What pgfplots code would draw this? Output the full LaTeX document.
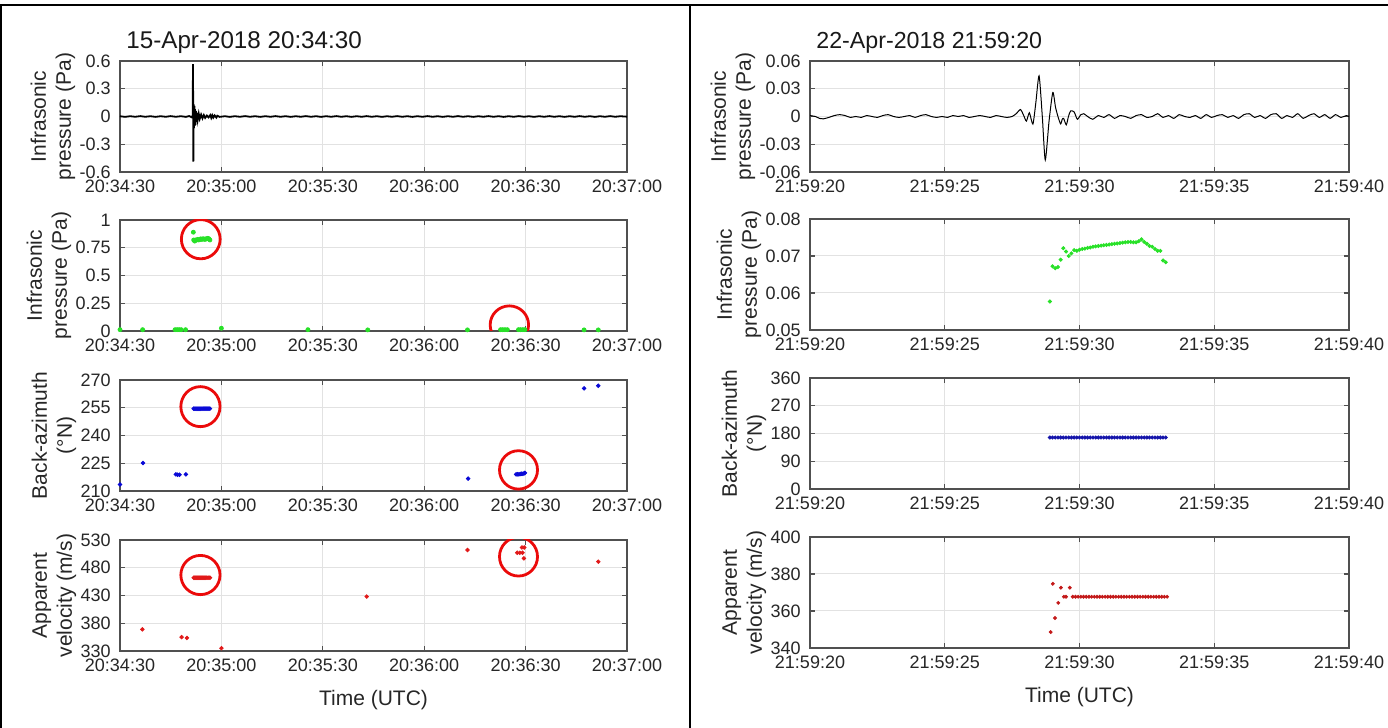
\documentclass[border=0pt]{standalone}
\usepackage{fontspec}
\setmainfont{Liberation Sans}
\usepackage{pgfplots}
\pgfplotsset{compat=1.18}
\definecolor{mgreen}{RGB}{40,225,40}
\definecolor{mblue}{RGB}{10,10,215}
\definecolor{mblue2}{RGB}{20,20,170}
\definecolor{mred}{RGB}{225,25,25}
\definecolor{mred2}{RGB}{195,25,25}
\definecolor{circ}{RGB}{235,10,10}
\definecolor{gridc}{RGB}{226,226,226}
\definecolor{axc}{RGB}{80,80,80}
\newcommand{\tk}{\fontsize{9}{10.8}\selectfont}
\newcommand{\lbl}{\fontsize{10.5}{12.5}\selectfont}
\newcommand{\ttl}{\fontsize{11.6}{13}\selectfont}
\newcommand{\ttlL}{\fontsize{12.1}{13.5}\selectfont}
\tikzset{ring/.style={draw=circ, line width=1.4pt}}
\pgfplotsset{
  mpanel/.style={
    scale only axis, height=55.5pt, anchor=south west,
    scaled y ticks=false, scaled x ticks=false,
    grid=major, major grid style={gridc, line width=0.5pt},
    axis line style={axc, line width=0.6pt},
    tick style={axc, line width=0.6pt},
    major tick length=2.5pt, tick align=inside,
    ticklabel style={font=\tk, text=black!85},
    yticklabel style={inner sep=0pt, xshift=-4.5pt},
    xticklabel style={inner sep=0pt, yshift=-3.75pt},
    every axis y label/.style={rotate=90, anchor=south, inner sep=0pt, align=center, font=\lbl, text=black!85},
    every axis x label/.style={at={(axis description cs:0.5,0)}, anchor=center, yshift=-24.5pt, font=\lbl, text=black!85},
    every axis title/.style={at={(axis description cs:0,1)}, anchor=base west, xshift=3pt, yshift=6.3pt, inner sep=0pt, font=\ttl, text=black!90},
  },
  lpanel/.style={mpanel, width=253.5pt, xmin=0, xmax=150, xtick={0,30,60,90,120,150},
    xticklabels={20:34:30,20:35:00,20:35:30,20:36:00,20:36:30,20:37:00}},
  rpanel/.style={mpanel, width=269.5pt, xmin=0, xmax=20, xtick={0,5,10,15,20},
    xticklabels={21:59:20,21:59:25,21:59:30,21:59:35,21:59:40}},
  gdot/.style={only marks, mark=*, color=mgreen, mark size=1pt},
  bdot/.style={only marks, mark=*, color=mblue, mark size=0.9pt},
  rdot/.style={only marks, mark=*, color=mred, mark size=0.9pt},
  gdot2/.style={only marks, mark=*, color=mgreen, mark size=0.8pt},
  bdot2/.style={only marks, mark=*, color=mblue2, mark size=0.8pt},
  rdot2/.style={only marks, mark=*, color=mred2, mark size=0.75pt},
}
\begin{document}
\begin{tikzpicture}
\useasboundingbox (0,0) rectangle (694pt,364pt);
% frame
\draw[black, line width=1pt] (0,361.5pt) -- (694pt,361.5pt);
\draw[black, line width=1pt] (0.5pt,0) -- (0.5pt,362pt);
\draw[black, line width=1pt] (344.75pt,0) -- (344.75pt,362pt);

% ---------------- LEFT COLUMN ----------------
\begin{axis}[lpanel, at={(60pt,278pt)}, ymin=-0.6, ymax=0.6,
  ytick={-0.6,-0.3,0,0.3,0.6}, yticklabels={-0.6,-0.3,0,0.3,0.6},
  ylabel={Infrasonic\\pressure (Pa)},
  ylabel style={at={([xshift=-22.2pt]axis description cs:0,0.5)}},
  title={15-Apr-2018 20:34:30}, title style={font=\ttlL}]
\addplot[black, line width=0.9pt] coordinates {
(0,0.003)(1.5,-0.004)(3,0.003)(4.5,-0.003)(6,0.004)(7.5,-0.003)(9,0.003)(10.5,-0.004)
(12,0.003)(13.5,-0.003)(15,0.004)(16.5,-0.003)(18,0.003)(19.5,-0.004)(20.5,0.005)
(21.2,-0.008)(21.5,0.01)(21.6,0.567)(21.7,-0.488)(21.8,0.13)(21.9,-0.125)(22.0,0.115)
(22.1,-0.1)(22.2,0.08)(22.3,-0.09)(22.45,0.06)(22.6,-0.06)(22.8,0.04)(23.0,-0.035)
(23.3,0.03)(23.6,-0.025)(24.0,0.02)(24.4,-0.02)(24.8,0.015)(25.2,-0.015)(25.7,0.01)
(26.2,-0.01)(26.7,0.015)(27.0,-0.015)(27.3,0.014)(27.6,-0.012)(28.0,0.012)(28.5,-0.012)
(28.8,0.008)(29.5,-0.004)(31,0.003)(32.5,-0.004)(34,0.003)(35.5,-0.003)(37,0.004)
(38.5,-0.003)(40,0.003)(41.5,-0.004)(43,0.003)(44.5,-0.003)(46,0.004)(47.5,-0.003)
(49,0.003)(50.5,-0.004)(52,0.003)(53.5,-0.003)(55,0.004)(56.5,-0.003)(58,0.003)
(59.5,-0.004)(61,0.003)(62.5,-0.003)(64,0.004)(65.5,-0.003)(67,0.003)(68.5,-0.004)
(70,0.003)(71.5,-0.003)(73,0.004)(74.5,-0.003)(76,0.003)(77.5,-0.004)(79,0.003)
(80.5,-0.003)(82,0.004)(83.5,-0.003)(85,0.003)(86.5,-0.004)(88,0.003)(89.5,-0.003)
(91,0.004)(92.5,-0.003)(94,0.003)(95.5,-0.004)(97,0.003)(98.5,-0.003)(100,0.004)
(101.5,-0.003)(103,0.003)(104.5,-0.004)(106,0.003)(107.5,-0.003)(109,0.004)(110.5,-0.003)
(112,0.003)(113.5,-0.004)(115,0.003)(116.5,-0.003)(118,0.004)(119.5,-0.003)(121,0.003)
(122.5,-0.004)(124,0.003)(125.5,-0.003)(127,0.004)(128.5,-0.003)(130,0.003)(131.5,-0.004)
(133,0.003)(134.5,-0.003)(136,0.004)(137.5,-0.003)(139,0.003)(140.5,-0.004)(142,0.003)
(143.5,-0.003)(145,0.004)(146.5,-0.003)(148,0.003)(150,-0.002)};
\end{axis}

\begin{axis}[lpanel, at={(60pt,198.5pt)}, ymin=0, ymax=1,
  ytick={0,0.25,0.5,0.75,1}, yticklabels={0,0.25,0.5,0.75,1},
  ylabel={Infrasonic\\pressure (Pa)},
  ylabel style={at={([xshift=-24.2pt]axis description cs:0,0.5)}}]
\addplot[gdot] coordinates {
(21.7,0.89)(21.8,0.82)(22.1,0.81)(22.4,0.82)(22.7,0.82)(23.0,0.825)(23.3,0.82)(23.6,0.825)
(23.9,0.83)(24.2,0.825)(24.5,0.83)(24.8,0.83)(25.1,0.825)(25.4,0.83)(25.7,0.83)(26.0,0.835)
(26.3,0.83)(26.6,0.82)
(0,0.012)(6.7,0.012)(16.3,0.012)(16.9,0.012)(17.5,0.012)(18.1,0.012)(19.4,0.012)
(30.0,0.025)(55.6,0.012)(73.3,0.01)(102.8,0.01)(112.6,0.012)(113.2,0.012)(113.9,0.012)
(114.6,0.012)(117.9,0.012)(118.5,0.012)(119.2,0.012)(119.8,0.012)(137.3,0.01)(141.5,0.01)};
\draw[ring] (axis cs:23.9,0.827) ellipse [x radius=9.7pt, y radius=9.8pt];
\draw[ring] (axis cs:115.2,0.055) ellipse [x radius=9.6pt, y radius=9.5pt];
\end{axis}

\begin{axis}[lpanel, at={(60pt,118.5pt)}, ymin=210, ymax=270,
  ytick={210,225,240,255,270}, yticklabels={210,225,240,255,270},
  ylabel={Back-azimuth\\(°N)},
  ylabel style={at={([xshift=-21.7pt]axis description cs:0,0.5)}}]
\addplot[bdot] coordinates {
(0,213.5)(6.8,225.1)(16.5,219.0)(17.0,218.8)(17.6,218.8)(19.5,219.0)
(21.8,254.5)(22.1,254.5)(22.4,254.5)(22.7,254.5)(23.0,254.5)(23.3,254.5)(23.6,254.5)
(23.9,254.5)(24.2,254.5)(24.5,254.5)(24.8,254.5)(25.1,254.5)(25.4,254.5)(25.7,254.5)
(26.0,254.5)(26.3,254.5)(26.6,254.5)
(103.0,216.7)(117.2,219.0)(117.6,219.0)(118.0,219.0)(118.4,219.2)(118.8,219.3)
(119.2,219.3)(119.6,219.6)(119.8,219.8)(137.3,265.5)(141.5,266.9)};
\draw[ring] (axis cs:23.8,255.6) ellipse [x radius=9.8pt, y radius=10pt];
\draw[ring] (axis cs:117.9,221.4) ellipse [x radius=9.5pt, y radius=9.6pt];
\end{axis}

\begin{axis}[lpanel, at={(60pt,38.5pt)}, ymin=330, ymax=530,
  ytick={330,380,430,480,530}, yticklabels={330,380,430,480,530},
  ylabel={Apparent\\velocity (m/s)},
  ylabel style={at={([xshift=-21.7pt]axis description cs:0,0.5)}},
  xlabel={Time (UTC)}]
\addplot[rdot] coordinates {
(6.6,369)(18.2,355)(19.8,353.5)(30.0,335)
(21.8,462)(22.1,462)(22.4,462)(22.7,462)(23.0,462)(23.3,462)(23.6,462)(23.9,462)
(24.2,462)(24.5,462)(24.8,462)(25.1,462)(25.4,462)(25.7,462)(26.0,462)(26.3,462)(26.6,462)
(73.0,428)(102.8,512)(117.5,507)(118.3,507)(119.1,507)(118.9,516.5)(119.6,516.5)
(119.5,497)(141.5,491)};
\draw[ring] (axis cs:23.8,466.9) ellipse [x radius=9.8pt, y radius=9.8pt];
\draw[ring] (axis cs:117.9,500) ellipse [x radius=9.5pt, y radius=9.7pt];
\end{axis}

% ---------------- RIGHT COLUMN ----------------
\begin{axis}[rpanel, at={(405pt,278pt)}, ymin=-0.06, ymax=0.06,
  ytick={-0.06,-0.03,0,0.03,0.06}, yticklabels={-0.06,-0.03,0,0.03,0.06},
  ylabel={Infrasonic\\pressure (Pa)},
  ylabel style={at={([xshift=-27.2pt]axis description cs:0,0.5)}},
  title={22-Apr-2018 21:59:20}]
\addplot[black, line width=0.5pt, smooth, tension=0.4] coordinates {
(0.0,0.001)(0.2,0.000)(0.35,-0.002)(0.5,-0.0025)(0.7,-0.001)(0.9,0.001)(1.1,0.002)
(1.3,0.001)(1.5,-0.001)(1.7,0.000)(1.9,-0.001)(2.1,0.001)(2.3,0.000)(2.5,-0.001)
(2.7,0.001)(2.9,0.002)(3.1,0.000)(3.3,-0.001)(3.5,0.000)(3.7,0.001)(3.9,-0.001)
(4.1,0.001)(4.3,0.002)(4.5,0.000)(4.7,-0.001)(4.9,0.000)(5.1,-0.001)(5.3,0.001)
(5.5,0.000)(5.7,0.001)(5.9,-0.001)(6.1,0.000)(6.3,0.001)(6.5,0.000)(6.7,-0.001)
(6.9,0.001)(7.1,0.000)(7.3,-0.001)(7.5,0.000)(7.65,0.003)(7.81,0.0075)(7.93,0.001)
(8.03,-0.005)(8.14,0.004)(8.27,-0.0082)(8.38,0.015)(8.50,0.044)(8.62,0.000)(8.73,-0.047)
(8.87,-0.005)(9.01,0.026)(9.11,0.010)(9.21,-0.001)(9.30,-0.008)(9.36,-0.003)(9.41,-0.002)
(9.51,-0.009)(9.59,0.000)(9.67,0.006)(9.80,0.005)(9.92,-0.003)(10.05,0.002)(10.16,0.003)
(10.3,0.000)(10.49,-0.003)(10.7,0.001)(10.9,-0.001)(11.1,0.002)(11.3,-0.002)(11.5,0.001)
(11.7,0.000)(11.9,-0.002)(12.1,0.001)(12.3,0.002)(12.5,-0.001)(12.7,0.000)(12.9,0.003)
(13.1,-0.001)(13.3,0.001)(13.5,-0.002)(13.7,0.002)(13.9,0.000)(14.1,-0.001)(14.3,0.001)
(14.5,-0.002)(14.7,0.002)(14.9,-0.001)(15.1,0.001)(15.3,0.002)(15.5,-0.001)(15.7,0.001)
(15.9,-0.002)(16.1,0.002)(16.3,0.003)(16.5,-0.001)(16.7,0.001)(16.9,-0.002)(17.1,0.002)
(17.3,0.003)(17.5,-0.002)(17.7,0.001)(17.9,-0.001)(18.1,0.003)(18.3,-0.002)(18.5,0.001)
(18.7,0.003)(18.9,-0.001)(19.1,0.002)(19.3,-0.002)(19.5,0.002)(19.7,-0.001)(19.9,0.001)(20.0,0.000)};
\end{axis}

\begin{axis}[rpanel, at={(405pt,199pt)}, ymin=0.05, ymax=0.08,
  ytick={0.05,0.06,0.07,0.08}, yticklabels={0.05,0.06,0.07,0.08},
  ylabel={Infrasonic\\pressure (Pa)},
  ylabel style={at={([xshift=-24.2pt]axis description cs:0,0.5)}}]
\addplot[gdot2] coordinates {
(8.9,0.0577)(9.0,0.0672)(9.1,0.0667)(9.2,0.0670)(9.3,0.0690)(9.4,0.0721)(9.5,0.0712)
(9.6,0.0700)(9.7,0.0707)(9.8,0.0716)(9.9,0.0714)(10.0,0.0717)(10.1,0.0719)(10.2,0.0720)
(10.3,0.0722)(10.4,0.0723)(10.5,0.0725)(10.6,0.0726)(10.7,0.0727)(10.8,0.0728)(10.9,0.0729)
(11.0,0.0730)(11.1,0.0731)(11.2,0.0732)(11.3,0.0733)(11.4,0.0734)(11.5,0.0735)(11.6,0.0736)
(11.7,0.0737)(11.8,0.0738)(11.9,0.0738)(12.0,0.0737)(12.1,0.0737)(12.2,0.0740)(12.3,0.0745)
(12.4,0.0738)(12.5,0.0733)(12.6,0.0727)(12.7,0.0725)(12.8,0.0719)(12.9,0.0714)(13.0,0.0714)
(13.1,0.0688)(13.2,0.0683)};
\end{axis}

\begin{axis}[rpanel, at={(405pt,119.5pt)}, ymin=0, ymax=360,
  ytick={0,90,180,270,360}, yticklabels={0,90,180,270,360},
  ylabel={Back-azimuth\\(°N)},
  ylabel style={at={([xshift=-21.7pt]axis description cs:0,0.5)}}]
\addplot[bdot2] coordinates {
(8.9,167)(9.0,167)(9.1,167)(9.2,167)(9.3,167)(9.4,167)(9.5,167)(9.6,167)(9.7,167)
(9.8,167)(9.9,167)(10.0,167)(10.1,167)(10.2,167)(10.3,167)(10.4,167)(10.5,167)(10.6,167)
(10.7,167)(10.8,167)(10.9,167)(11.0,167)(11.1,167)(11.2,167)(11.3,167)(11.4,167)(11.5,167)
(11.6,167)(11.7,167)(11.8,167)(11.9,167)(12.0,167)(12.1,167)(12.2,167)(12.3,167)(12.4,167)
(12.5,167)(12.6,167)(12.7,167)(12.8,167)(12.9,167)(13.0,167)(13.1,167)(13.2,167)};
\end{axis}

\begin{axis}[rpanel, at={(405pt,40pt)}, ymin=340, ymax=400,
  ytick={340,360,380,400}, yticklabels={340,360,380,400},
  ylabel={Apparent\\velocity (m/s)},
  ylabel style={at={([xshift=-21.7pt]axis description cs:0,0.5)}},
  xlabel={Time (UTC)}]
\addplot[rdot2] coordinates {
(8.93,348.6)(9.01,374.7)(9.09,356.2)(9.21,364.4)(9.31,372.6)(9.42,367.7)(9.5,367.7)
(9.64,372.6)(9.75,367.7)(9.85,367.7)(9.95,367.7)(10.05,367.7)(10.15,367.7)(10.25,367.7)
(10.35,367.7)(10.45,367.7)(10.55,367.7)(10.65,367.7)(10.75,367.7)(10.85,367.7)(10.95,367.7)
(11.05,367.7)(11.15,367.7)(11.25,367.7)(11.35,367.7)(11.45,367.7)(11.55,367.7)(11.65,367.7)
(11.75,367.7)(11.85,367.7)(11.95,367.7)(12.05,367.7)(12.15,367.7)(12.25,367.7)(12.35,367.7)
(12.45,367.7)(12.55,367.7)(12.65,367.7)(12.75,367.7)(12.85,367.7)(12.95,367.7)(13.05,367.7)
(13.15,367.7)(13.25,367.7)};
\end{axis}
\end{tikzpicture}
\end{document}
